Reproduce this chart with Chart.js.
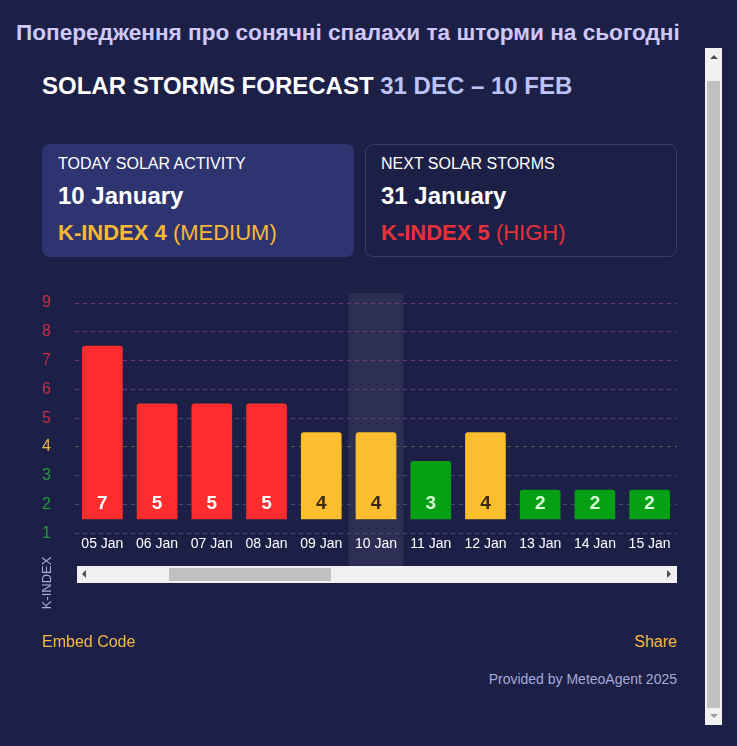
<!DOCTYPE html>
<html>
<head>
<meta charset="utf-8">
<script src="https://cdn.jsdelivr.net/npm/chart.js@4"></script>
<style>
  html, body { margin: 0; padding: 0; }
  body {
    width: 737px; height: 746px; position: relative; overflow: hidden;
    background: #1d2046; font-family: "Liberation Sans", Arial, sans-serif; color: #fff;
  }
  .abs { position: absolute; white-space: nowrap; }
  #heading { left: 16px; top: 20px; font-size: 22.6px; font-weight: bold; color: #cfc8f7; }
  #title { left: 42px; top: 72px; font-size: 24px; font-weight: bold; }
  #title span { color: #bcc3f7; }
  .card { position: absolute; top: 144px; width: 312px; height: 113px; border-radius: 8px; box-sizing: border-box; }
  #today { left: 42px; background: #2e3470; }
  #next { left: 365px; border: 1px solid #363b6e; }
  .card .lbl { position: absolute; left: 16px; top: 11px; font-size: 16px; }
  .card .date { position: absolute; left: 16px; top: 38px; font-size: 24px; font-weight: bold; }
  .card .k { position: absolute; left: 16px; top: 76px; font-size: 22px; }
  .card .k b { font-weight: bold; }
  #next .lbl, #next .date, #next .k { left: 15px; top: 10px; }
  #next .date { top: 37px; }
  #next .k { top: 75px; }
  .orange { color: #f7b836; }
  .red { color: #e8303c; }
  #chartBox { position: absolute; left: 42px; top: 293px; width: 635px; height: 273px; }
  #hscroll { position: absolute; left: 77px; top: 566px; width: 600px; height: 17px; background: #f1f1f3; }
  #hthumb { position: absolute; left: 92px; top: 2px; width: 162px; height: 13px; background: #c1c1c1; }
  #yTitle { position: absolute; left: 46px; top: 583px; font-size: 13px; color: #a5acdf;
    transform: translate(-50%, -50%) rotate(-90deg); white-space: nowrap; }
  #embed { left: 42px; top: 633px; font-size: 16px; color: #f4b942; }
  #share { right: 60px; top: 633px; font-size: 16px; color: #f4b942; }
  #provided { right: 60px; top: 671px; font-size: 14px; color: #a4a9dc; }
  #vscroll { position: absolute; left: 705px; top: 48px; width: 17px; height: 677px; background: #f1f1f3; }
  #vthumb { position: absolute; left: 2px; top: 33px; width: 13px; height: 627px; background: #c1c1c1; }
  .tri { position: absolute; width: 0; height: 0; }
</style>
</head>
<body>

<div id="heading" class="abs">Попередження про сонячні спалахи та шторми на сьогодні</div>

<div id="title" class="abs">SOLAR STORMS FORECAST <span>31 DEC – 10 FEB</span></div>

<div class="card" id="today">
  <div class="lbl">TODAY SOLAR ACTIVITY</div>
  <div class="date">10 January</div>
  <div class="k orange"><b>K-INDEX 4</b> (MEDIUM)</div>
</div>

<div class="card" id="next">
  <div class="lbl">NEXT SOLAR STORMS</div>
  <div class="date">31 January</div>
  <div class="k red"><b>K-INDEX 5</b> (HIGH)</div>
</div>

<div id="chartBox"><canvas id="kChart"></canvas></div>

<div id="hscroll">
  <div class="tri" style="left:5px;top:4px;border-top:4px solid transparent;border-bottom:4px solid transparent;border-right:4px solid #505050;"></div>
  <div id="hthumb"></div>
  <div class="tri" style="left:590px;top:4px;border-top:4px solid transparent;border-bottom:4px solid transparent;border-left:4px solid #505050;"></div>
</div>

<div id="yTitle">K-INDEX</div>

<div id="embed" class="abs">Embed Code</div>
<div id="share" class="abs">Share</div>
<div id="provided" class="abs">Provided by MeteoAgent 2025</div>

<div id="vscroll">
  <div class="tri" style="left:5px;top:7px;border-left:4px solid transparent;border-right:4px solid transparent;border-bottom:4px solid #505050;"></div>
  <div id="vthumb"></div>
  <div class="tri" style="left:5px;top:666px;border-left:4px solid transparent;border-right:4px solid transparent;border-top:4px solid #a0a0a0;"></div>
</div>

<script>
// visible part of the forecast
const days = ["05 Jan", "06 Jan", "07 Jan", "08 Jan", "09 Jan", "10 Jan", "11 Jan", "12 Jan", "13 Jan", "14 Jan", "15 Jan"];
const kIndex = [7, 5, 5, 5, 4, 4, 3, 4, 2, 2, 2];
const yTicks = [1, 2, 3, 4, 5, 6, 7, 8, 9];
const today = "10 Jan";

function barColor(k) {
    if (k >= 5) return "#fe2d2d";
    if (k === 4) return "#fcbe2e";
    return "#07a015";
}

function labelColor(k) {
    if (k >= 5) return "#ffffff";
    if (k === 4) return "#3a2a12";
    return "#d6ffd6";
}

function tickColor(k) {
    if (k >= 5) return "#bf3049";
    if (k === 4) return "#e9b74c";
    return "#25983a";
}

function gridColor(k) {
    if (k >= 5) return "rgba(160,70,160,0.6)";
    if (k === 4) return "rgba(190,170,120,0.45)";
    return "rgba(120,125,170,0.45)";
}

// light column behind today's bar
const todayColumn = {
    id: "todayColumn",
    beforeDraw(chart) {
        const x = chart.scales.x;
        const i = days.indexOf(today);
        if (i < 0) return;
        const w = x.width / days.length;
        const cx = x.getPixelForValue(i);
        const c = chart.ctx;
        c.save();
        c.fillStyle = "rgba(255,255,255,0.07)";
        c.fillRect(cx - w / 2, 0, w, chart.height);
        c.restore();
    }
};

// k-index number near the bottom of each bar
const barLabels = {
    id: "barLabels",
    afterDatasetsDraw(chart) {
        const c = chart.ctx;
        const meta = chart.getDatasetMeta(0);
        c.save();
        c.font = "bold 19px 'Liberation Sans', Arial, sans-serif";
        c.textAlign = "center";
        c.textBaseline = "middle";
        meta.data.forEach((bar, i) => {
            c.fillStyle = labelColor(kIndex[i]);
            c.fillText(kIndex[i], bar.x, bar.base - 15);
        });
        c.restore();
    }
};

const chart = new Chart(document.getElementById("kChart"), {
    type: "bar",
    data: {
        labels: days,
        datasets: [{
            data: kIndex,
            base: 1,
            backgroundColor: kIndex.map(barColor),
            borderRadius: 3,
            barThickness: 40
        }]
    },
    options: {
        responsive: true,
        maintainAspectRatio: false,
        animation: false,
        layout: { padding: { top: 10, bottom: 10, right: 0, left: 0 } },
        plugins: {
            legend: { display: false },
            tooltip: { enabled: false }
        },
        scales: {
            x: {
                grid: { display: false, drawTicks: false },
                border: { display: false },
                ticks: {
                    color: "#ffffff",
                    padding: 3,
                    maxRotation: 0,
                    font: { size: 14, family: "'Liberation Sans', Arial, sans-serif" }
                }
            },
            y: {
                min: 0.5,
                max: 8.5,
                // tick k sits half a step below the bar scale value k
                afterBuildTicks: scale => {
                    scale.ticks = yTicks.map(k => ({ value: k - 0.5 }));
                },
                afterFit: scale => {
                    scale.width = 33;
                },
                border: { display: false, dash: [4, 4] },
                grid: {
                    drawTicks: false,
                    color: ctx => gridColor(ctx.tick.value + 0.5),
                    lineWidth: 1
                },
                ticks: {
                    crossAlign: "far",
                    padding: 0,
                    color: ctx => tickColor(ctx.tick.value + 0.5),
                    font: { size: 16, family: "'Liberation Sans', Arial, sans-serif" },
                    callback: v => v + 0.5
                }
            }
        }
    },
    plugins: [todayColumn, barLabels]
});
</script>
</body>
</html>
